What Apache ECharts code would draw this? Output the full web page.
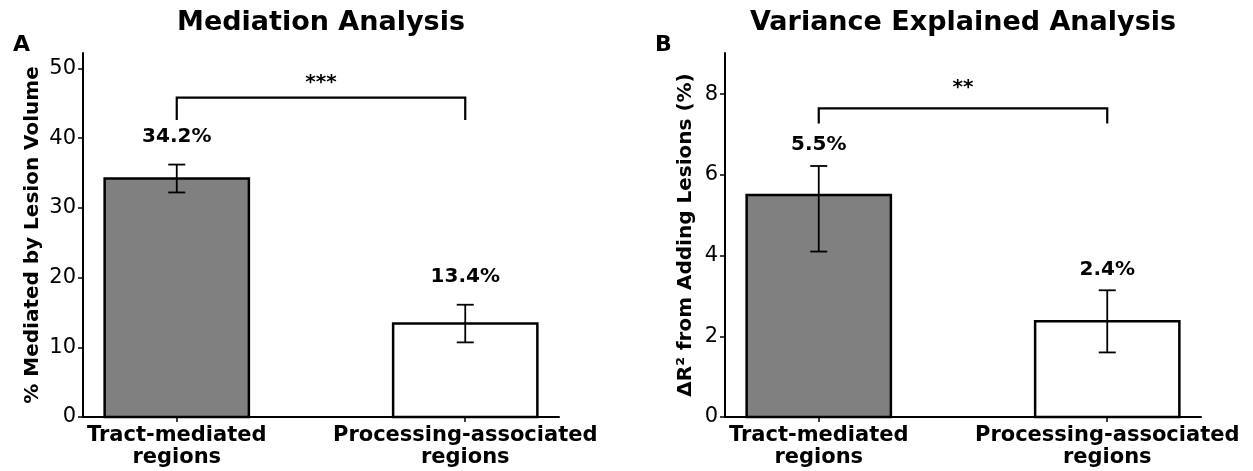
<!DOCTYPE html>
<html><head><meta charset="utf-8">
<script src="https://cdn.jsdelivr.net/npm/echarts@6/dist/echarts.min.js"></script>
<style>html,body{margin:0;padding:0;background:#fff}#c{width:1253px;height:471px}</style>
</head><body><div id="c"></div>
<script>
// ---- data ----
const categories = ['Tract-mediated\nregions', 'Processing-associated\nregions'];
const barIndex = [0, 1];
const mediationValues = [34.2, 13.4];
const mediationErrLow = [2.0, 2.7];
const mediationErrHigh = [2.0, 2.7];
const varianceValues = [5.5, 2.37];
const varianceErrLow = [1.4, 0.77];
const varianceErrHigh = [0.72, 0.77];
const mediationTicks = [0, 10, 20, 30, 40, 50];
const varianceTicks = [0, 2, 4, 6, 8];
const mediationSig = '***';
const varianceSig = '**';

// ---- styles / layout ----
const FONT = 'DejaVu Sans';
const barFill = ['#808080', '#ffffff'];
const panels = [
  { title: 'Mediation Analysis', letter: 'A', yName: '% Mediated by Lesion Volume',
    values: mediationValues, errLow: mediationErrLow, errHigh: mediationErrHigh, ticks: mediationTicks, sig: mediationSig,
    yMax: 52.2, labelGap: 4.0, bracketTop: 45.8, bracketLeg: 42.6, sigY: 47.9,
    grid: { left: 83, top: 53, width: 476, height: 364 }, nameGap: 40,
    titleX: 321, letterX: 13 },
  { title: 'Variance Explained Analysis', letter: 'B', yName: 'ΔR² from Adding Lesions (%)',
    values: varianceValues, errLow: varianceErrLow, errHigh: varianceErrHigh, ticks: varianceTicks, sig: varianceSig,
    yMax: 9.02, labelGap: 0.52, bracketTop: 7.65, bracketLeg: 7.27, sigY: 8.17,
    grid: { left: 725, top: 53, width: 476, height: 364 }, nameGap: 29,
    titleX: 963, letterX: 655 }
];

const chart = echarts.init(document.getElementById('c'), null, { renderer: 'canvas' });

const grids = [], xAxes = [], yAxes = [], series = [], graphics = [];

panels.forEach((p, i) => {
  grids.push(Object.assign({ containLabel: false }, p.grid));
  xAxes.push({
    type: 'value', gridIndex: i, min: -0.325, max: 1.325,
    splitLine: { show: false },
    axisLine: { show: true, onZero: false, lineStyle: { color: '#000', width: 2 } },
    axisTick: { show: true, customValues: barIndex, length: 5, inside: false, lineStyle: { color: '#000', width: 1.5 } },
    axisLabel: { customValues: barIndex, formatter: v => categories[Math.round(v)], margin: 8,
      fontFamily: FONT, fontWeight: 'bold', fontSize: 21, lineHeight: 22, color: '#000', align: 'center' }
  });
  yAxes.push({
    type: 'value', gridIndex: i, min: 0, max: p.yMax,
    name: p.yName, nameLocation: 'middle', nameGap: p.nameGap,
    nameTextStyle: { fontFamily: FONT, fontWeight: 'bold', fontSize: 20, color: '#000' },
    splitLine: { show: false },
    axisLine: { show: true, onZero: false, lineStyle: { color: '#000', width: 2 } },
    axisTick: { show: true, customValues: p.ticks, length: 5, lineStyle: { color: '#000', width: 1.5 } },
    axisLabel: { customValues: p.ticks, margin: 7, fontFamily: FONT, fontSize: 21, color: '#000' }
  });

  // bars
  series.push({
    type: 'custom', xAxisIndex: i, yAxisIndex: i, z: 2,
    data: barIndex.map((x, k) => [x, p.values[k]]),
    renderItem: (params, api) => {
      const x = api.value(0), y = api.value(1);
      const b = api.coord([x, 0]), t = api.coord([x, y]);
      const w = api.size([0.5, 0])[0];
      return { type: 'rect', shape: { x: b[0] - w / 2, y: t[1], width: w, height: b[1] - t[1] },
        style: { fill: barFill[params.dataIndex], stroke: '#000', lineWidth: 2.5 } };
    }
  });
  // error bars
  series.push({
    type: 'custom', xAxisIndex: i, yAxisIndex: i, z: 3,
    data: barIndex.map((x, k) => [x, p.values[k] - p.errLow[k], p.values[k] + p.errHigh[k]]),
    renderItem: (params, api) => {
      const x = api.value(0);
      const lo = api.coord([x, api.value(1)]), hi = api.coord([x, api.value(2)]);
      const cap = 8.5, st = { stroke: '#000', lineWidth: 1.8 };
      return { type: 'group', children: [
        { type: 'line', shape: { x1: hi[0], y1: hi[1], x2: lo[0], y2: lo[1] }, style: st },
        { type: 'line', shape: { x1: hi[0] - cap, y1: hi[1], x2: hi[0] + cap, y2: hi[1] }, style: st },
        { type: 'line', shape: { x1: lo[0] - cap, y1: lo[1], x2: lo[0] + cap, y2: lo[1] }, style: st }
      ] };
    }
  });
  // value labels
  series.push({
    type: 'custom', xAxisIndex: i, yAxisIndex: i, z: 4,
    data: barIndex.map((x, k) => [x, p.values[k] + p.errHigh[k] + p.labelGap, p.values[k]]),
    renderItem: (params, api) => {
      const c = api.coord([api.value(0), api.value(1)]);
      return { type: 'text', x: c[0], y: c[1],
        style: { text: api.value(2).toFixed(1) + '%', fontFamily: FONT, fontWeight: 'bold', fontSize: 20,
          fill: '#000', align: 'center', verticalAlign: 'middle' } };
    }
  });
  // significance bracket
  series.push({
    type: 'custom', xAxisIndex: i, yAxisIndex: i, z: 4,
    data: [[barIndex[0], barIndex[1], p.bracketTop, p.bracketLeg, p.sigY]],
    renderItem: (params, api) => {
      const x0 = api.value(0), x1 = api.value(1);
      const a = api.coord([x0, api.value(3)]), b = api.coord([x0, api.value(2)]);
      const c = api.coord([x1, api.value(2)]), d = api.coord([x1, api.value(3)]);
      const s = api.coord([(x0 + x1) / 2, api.value(4)]);
      return { type: 'group', children: [
        { type: 'polyline', shape: { points: [a, b, c, d] }, style: { stroke: '#000', lineWidth: 2.2, fill: null } },
        { type: 'text', x: s[0], y: s[1], style: { text: p.sig, fontFamily: FONT, fontWeight: 'bold', fontSize: 20,
          fill: '#000', align: 'center', verticalAlign: 'middle' } }
      ] };
    }
  });

  graphics.push({ type: 'text', x: p.titleX, y: 23,
    style: { text: p.title, fontFamily: FONT, fontWeight: 'bold', fontSize: 27, fill: '#000', align: 'center', verticalAlign: 'middle' } });
  graphics.push({ type: 'text', x: p.letterX, y: 45,
    style: { text: p.letter, fontFamily: FONT, fontWeight: 'bold', fontSize: 22, fill: '#000', align: 'left', verticalAlign: 'middle' } });
});

chart.setOption({
  backgroundColor: '#fff',
  animation: false,
  grid: grids, xAxis: xAxes, yAxis: yAxes, series: series, graphic: graphics
});
</script></body></html>
